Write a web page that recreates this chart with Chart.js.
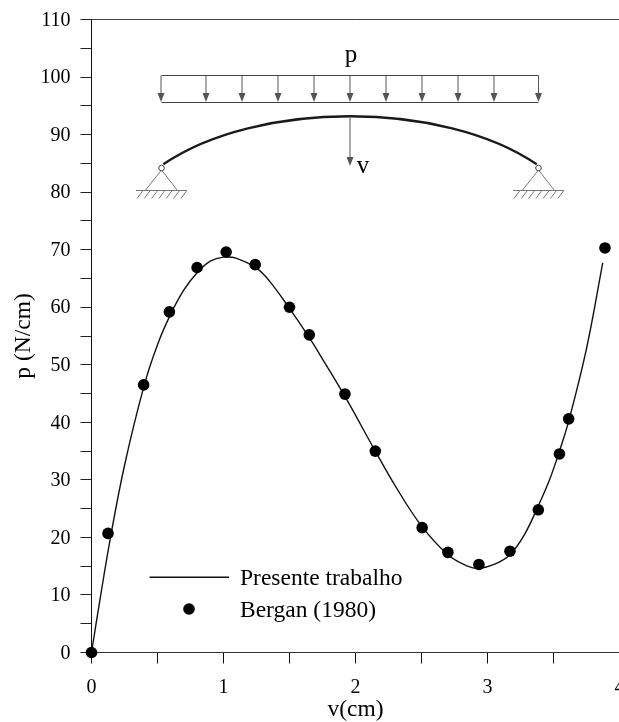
<!DOCTYPE html>
<html><head><meta charset="utf-8">
<style>html,body{margin:0;padding:0;background:#fff;overflow:hidden;width:619px;height:722px}canvas{display:block}</style>
<script src="https://cdn.jsdelivr.net/npm/chart.js@4/dist/chart.umd.js"></script>
</head><body><canvas id="c" width="640" height="722"></canvas>
<script>
const curveX=[0,0.07,0.14,0.25,0.4,0.5,0.6,0.7,0.8,0.9,1.0,1.1,1.25,1.35,1.5,1.65,1.75,1.92,2.15,2.3,2.5,2.7,2.85,2.93,3.05,3.17,3.28,3.385,3.47,3.545,3.615,3.75,3.873];
const curveY=[0,10,19.5,32.5,46.5,53.5,58.8,63,66,68,68.7,68.5,66.8,64.5,59.8,54.7,51,44.5,35,29,22,17,15,14.6,15.3,17,20.5,25.5,30,35,40.2,52.8,67.7];
const dotX=[0,0.125,0.395,0.59,0.80,1.02,1.24,1.50,1.65,1.92,2.15,2.505,2.70,2.935,3.17,3.385,3.545,3.615,3.89];
const dotY=[0,20.7,46.5,59.2,66.9,69.6,67.4,60.0,55.2,44.9,35,21.7,17.4,15.3,17.6,24.8,34.5,40.6,70.3];
const seriesNames=['Presente trabalho','Bergan (1980)'];
const xTitle='v(cm)', yTitle='p (N/cm)';
const FONT='"Liberation Serif"';
const zip=(a,b)=>a.map((v,i)=>({x:v,y:b[i]}));

const overlay={id:'overlay',afterDatasetsDraw(ch){
  const c=ch.ctx;c.save();
  const dark='#111',gray='#777';
  // legend
  c.strokeStyle=dark;c.lineWidth=1.4;c.beginPath();c.moveTo(149.5,577.3);c.lineTo(229,577.3);c.stroke();
  c.fillStyle='#000';c.beginPath();c.arc(189,609,5.8,0,Math.PI*2);c.fill();
  c.font='23.5px '+FONT;c.textBaseline='alphabetic';c.textAlign='left';
  c.fillText(seriesNames[0],240,585);c.fillText(seriesNames[1],240,617);
  // load diagram
  const arrow=(x,y0,y1,w,lc)=>{c.strokeStyle=lc;c.lineWidth=1;c.beginPath();c.moveTo(x,y0);c.lineTo(x,y1-3);c.stroke();
    c.fillStyle='#555';c.beginPath();c.moveTo(x-w/2,y1-9);c.lineTo(x+w/2,y1-9);c.lineTo(x,y1);c.closePath();c.fill();};
  c.strokeStyle='#444';c.lineWidth=1;
  c.beginPath();c.moveTo(161.5,75.5);c.lineTo(538.5,75.5);c.moveTo(161.5,102.5);c.lineTo(538.5,102.5);c.stroke();
  [161,206,242,278,314,350,386,422,458,494,538.5].forEach(x=>arrow(x,75.5,102,7,'#555'));
  // arch
  c.strokeStyle='#1a1a1a';c.lineWidth=2.4;c.beginPath();c.moveTo(163.3,164.3);c.bezierCurveTo(256.6,100.3,443.4,100.3,536.7,164.3);c.stroke();
  arrow(350,116.5,166,7,'#555');
  // supports
  [161.5,538.5].forEach(h=>{
    c.strokeStyle=gray;c.lineWidth=1;
    c.beginPath();c.moveTo(h,170);c.lineTo(h-16.3,190.5);c.moveTo(h,170);c.lineTo(h+16,190.5);
    c.moveTo(h-25.5,190.5);c.lineTo(h+25.5,190.5);
    for(let i=0;i<7;i++){const x=h-18.5+i*7.3;c.moveTo(x,190.5);c.lineTo(x-6,198.5);}
    c.stroke();
    c.fillStyle='#fff';c.strokeStyle='#444';c.beginPath();c.arc(h,168,2.8,0,Math.PI*2);c.fill();c.stroke();
  });
  c.fillStyle='#000';c.font='25px '+FONT;c.textAlign='center';
  c.fillText('p',351,62);c.fillText('v',363,173);
  c.restore();
}};

new Chart(document.getElementById('c'),{
  type:'scatter',
  data:{datasets:[
    {label:seriesNames[1],data:zip(dotX,dotY),showLine:false,pointRadius:5.8,pointHoverRadius:5.8,backgroundColor:'#000',borderColor:'#000',borderWidth:0,clip:false},
    {label:seriesNames[0],data:zip(curveX,curveY),showLine:true,pointRadius:0,borderColor:'#111',borderWidth:1.4,tension:0.4,clip:false}
  ]},
  options:{
    responsive:false,animation:false,devicePixelRatio:1,
    layout:{padding:{left:0,top:19.5,right:20.5,bottom:0}},
    plugins:{legend:{display:false},tooltip:{enabled:false}},
    scales:{
      x:{type:'linear',min:0,max:4,
        afterFit(s){s.height=69.5;s.paddingLeft=0;s.paddingRight=0;},
        title:{display:true,text:xTitle,color:'#000',font:{family:FONT,size:23.5,lineHeight:1},padding:{top:0,bottom:0}},
        border:{color:'#333',width:1},
        grid:{color:'transparent',tickColor:'#111',tickLength:11,drawOnChartArea:true},
        ticks:{stepSize:0.5,maxRotation:0,autoSkip:false,color:'#000',padding:12,font:{family:FONT,size:20},
          callback:v=>Number.isInteger(v)?String(v):''}},
      y:{type:'linear',min:0,max:110,
        afterFit(s){s.width=91.5;s.paddingTop=0;s.paddingBottom=0;},
        title:{display:true,text:yTitle,color:'#000',font:{family:FONT,size:23.5,lineHeight:1},padding:{top:12,bottom:0}},
        border:{color:'#111',width:1},
        grid:{color:c=>c.tick&&c.tick.value===110?'#444':'transparent',tickColor:'#222',tickLength:11},
        ticks:{stepSize:5,autoSkip:false,color:'#000',padding:10,labelOffset:1,font:{family:FONT,size:20},
          callback:v=>v%10===0?String(v):''}}
    }
  },
  plugins:[overlay]
});
</script></body></html>
